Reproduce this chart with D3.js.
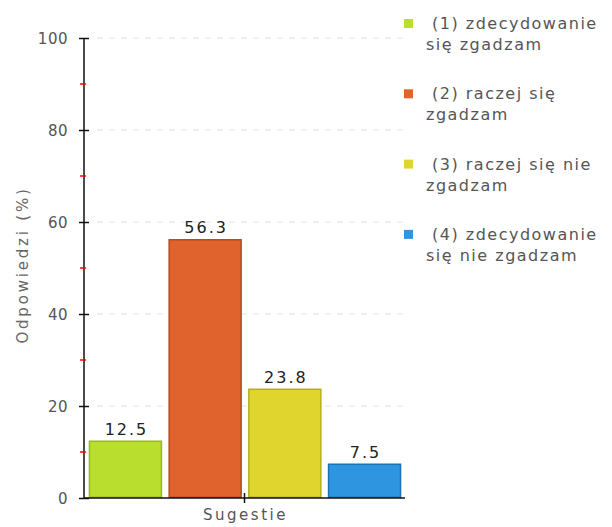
<!DOCTYPE html>
<html><head><meta charset="utf-8">
<script src="https://cdn.jsdelivr.net/npm/d3@7"></script>
<style>body{margin:0;background:#fff;}svg{display:block;font-family:"DejaVu Sans",Verdana,sans-serif;}</style>
</head><body>
<svg id="c" width="612" height="527"></svg>
<script>
const categories = ["(1) zdecydowanie się zgadzam","(2) raczej się zgadzam","(3) raczej się nie zgadzam","(4) zdecydowanie się nie zgadzam"];
const legendLines = [["(1) zdecydowanie","się zgadzam"],["(2) raczej się","zgadzam"],["(3) raczej się nie","zgadzam"],["(4) zdecydowanie","się nie zgadzam"]];
const values = [12.5, 56.3, 23.8, 7.5];
const fills = ["#bade2e","#e0632e","#e0d52e","#2e95e0"];
const strokes = ["#9ab820","#b84a1c","#b8ae1c","#1c72b8"];
const majorTicks = [0,20,40,60,80,100];
const minorTicks = [10,30,50,70,90];
const groupLabel = "Sugestie";
const yTitle = "Odpowiedzi (%)";

const svg = d3.select("#c");
const x0 = 84, x1 = 405, yTop = 38, yBot = 498;
const y = d3.scaleLinear().domain([0,100]).range([yBot,yTop]);
const x = d3.scaleBand().domain(categories).range([x0+2, x1-1]).paddingInner(0.078).paddingOuter(0.034);

// gridlines
svg.append("g").selectAll("line").data(majorTicks.filter(d=>d>0)).join("line")
  .attr("x1",x0+13).attr("x2",x1).attr("y1",d=>y(d)).attr("y2",d=>y(d))
  .attr("stroke","#e0e0e0").attr("stroke-dasharray","6,6").attr("stroke-width",1);

// bars
svg.append("g").selectAll("rect").data(values).join("rect")
  .attr("x",(d,i)=>x(categories[i])+0.75).attr("width",x.bandwidth()-1.5)
  .attr("y",d=>y(d)+0.75).attr("height",d=>yBot-y(d)-1.5)
  .attr("fill",(d,i)=>fills[i]).attr("stroke",(d,i)=>strokes[i]).attr("stroke-width",1.5);

// value labels
svg.append("g").selectAll("text").data(values).join("text")
  .attr("x",(d,i)=>x(categories[i])+x.bandwidth()/2+1).attr("y",d=>y(d)-6)
  .attr("text-anchor","middle").attr("font-size",16).attr("fill","#222")
  .attr("letter-spacing",2).text(d=>d.toFixed(1));

// y axis
const yAxis = d3.axisLeft(y).tickValues(majorTicks).tickSize(5).tickPadding(11).tickFormat(d3.format("d"));
const ga = svg.append("g").attr("transform",`translate(${x0},0)`).call(yAxis);
ga.select(".domain").attr("stroke","#111").attr("stroke-width",1.5).attr("d",`M0,${yTop}V${yBot}`);
ga.selectAll(".tick line").attr("x1",-5).attr("x2",5).attr("stroke","#111").attr("stroke-width",1.5);
ga.selectAll(".tick text").attr("font-size",15).attr("fill","#555").attr("font-family","DejaVu Sans")
  .attr("letter-spacing",0.5).attr("dy","0.36em");
ga.selectAll(".minor").data(minorTicks).join("line").attr("class","minor")
  .attr("x1",-4).attr("x2",2).attr("y1",d=>y(d)).attr("y2",d=>y(d))
  .attr("stroke","#ff0000").attr("stroke-width",1.5);

// x axis
const xc = d3.scaleBand().domain([groupLabel]).range([x0,x1]);
const xAxis = d3.axisBottom(xc).tickSize(0).tickPadding(11);
const gx = svg.append("g").attr("transform",`translate(0,${yBot})`).call(xAxis);
gx.select(".domain").attr("stroke","#111").attr("stroke-width",1.5).attr("d",`M${x0},0H${x1}`);
gx.selectAll(".tick line").attr("y1",-5).attr("y2",5).attr("stroke","#111").attr("stroke-width",1.5);
gx.selectAll(".tick text").attr("font-size",15).attr("fill","#555").attr("font-family","DejaVu Sans")
  .attr("letter-spacing",2.5).attr("dx",1);

// y title
svg.append("text").attr("transform",`translate(28,${265}) rotate(-90)`)
  .attr("text-anchor","middle").attr("font-size",15).attr("fill","#666")
  .attr("letter-spacing",2.8).text(yTitle);

// legend
const lg = svg.append("g").selectAll("g").data(legendLines).join("g")
  .attr("transform",(d,i)=>`translate(404,${24+i*70.3})`);
lg.append("rect").attr("x",0).attr("y",-5).attr("width",9).attr("height",9)
  .attr("fill",(d,i)=>fills[i]);
lg.append("text").attr("font-size",16).attr("fill","#555").attr("letter-spacing",1.5)
  .selectAll("tspan").data(d=>d).join("tspan")
  .attr("x",(d,i)=>i===0?28:22).attr("y",(d,i)=>5+i*21).text(d=>d);
</script>
</body></html>
